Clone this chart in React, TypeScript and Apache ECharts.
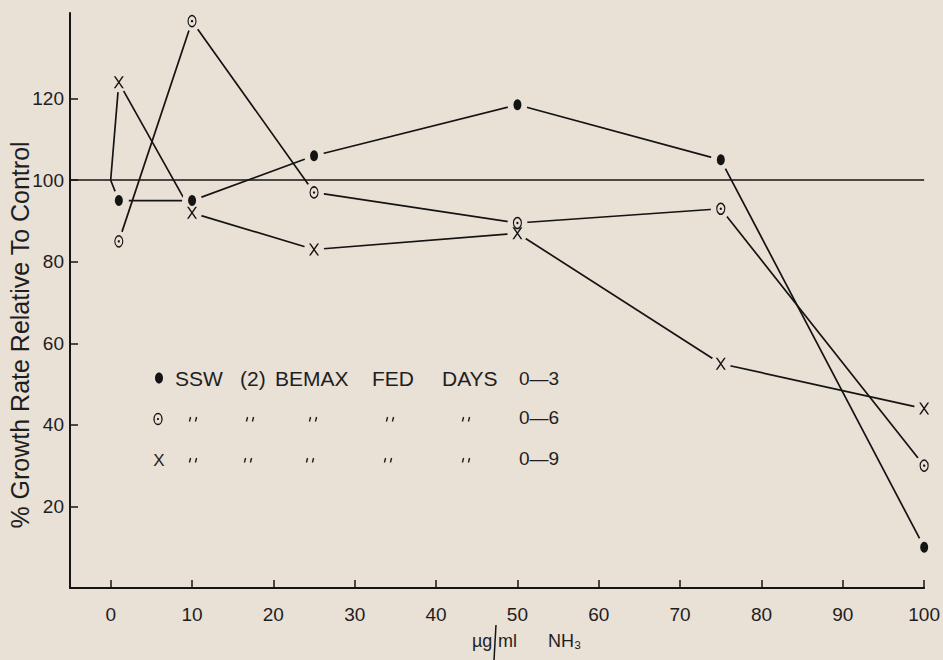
import React, { useEffect, useRef } from "react";
import * as echarts from "echarts";

// ---- data ----
const xValues = [1, 10, 25, 50, 75, 100];
const controlPoint = [0, 100];
const days03 = [95, 95, 106, 118.5, 105, 10];
const days06 = [85, 139, 97, 89.5, 93, 30];
const days09 = [124, 92, 83, 87, 55, 44];
const controlLevel = 100;
const xTicks = [0, 10, 20, 30, 40, 50, 60, 70, 80, 90, 100];
const yTicks = [20, 40, 60, 80, 100, 120];
const legendWords = ["SSW", "(2)", "BEMAX", "FED", "DAYS"];
const legendDays = ["0—3", "0—6", "0—9"];
const yTitle = "% Growth Rate Relative To Control";
const xTitleLeft = "µg";
const xTitleMid = "ml";
const xTitleRight = "NH₃";

const bg = "#e9e0d6";
const ink = "#141414";
const txt = "#1e1e1e";
const font = "'Liberation Sans', Arial, sans-serif";

const pts = (ys: number[]) => xValues.map((x, i) => [x, ys[i]]);

const crossPath =
  "path://M0,0 L1.7,0 L10,12 L8.3,12 Z M8.3,0 L10,0 L1.7,12 L0,12 Z";

export default function App() {
  const ref = useRef<HTMLDivElement>(null);
  useEffect(() => {
    if (!ref.current) return;
    const chart = echarts.init(ref.current, undefined, { renderer: "svg" });

    const lineSeries = (data: number[][], extra: any = {}) => ({
      type: "line",
      data,
      showSymbol: false,
      symbol: "none",
      silent: true,
      z: 2,
      lineStyle: { color: ink, width: 1.7 },
      ...extra,
    });

    const wordX = [175, 240, 275, 372, 442];
    const dittoX = [
      [193, 250, 313, 390, 466],
      [193, 248, 310, 388, 466],
    ];
    const rowY = [378, 419, 460];

    const graphics: any[] = [];
    // y axis title
    graphics.push({
      type: "text",
      x: 20,
      y: 335,
      rotation: Math.PI / 2,
      style: {
        text: yTitle,
        fontSize: 25,
        fontFamily: font,
        fill: txt,
        align: "center",
        verticalAlign: "middle",
      },
    });
    // x axis title
    const xt = (text: string, x: number) => ({
      type: "text",
      x,
      y: 641,
      style: {
        text,
        fontSize: 18,
        fontFamily: font,
        fill: txt,
        align: "left",
        verticalAlign: "middle",
      },
    });
    graphics.push(xt(xTitleLeft, 472));
    graphics.push(xt(xTitleMid, 498));
    graphics.push(xt(xTitleRight, 548));
    graphics.push({
      type: "line",
      shape: { x1: 496, y1: 625, x2: 494, y2: 660 },
      style: { stroke: ink, lineWidth: 1.5 },
    });
    // legend row 1
    graphics.push({
      type: "ellipse",
      shape: { cx: 159, cy: rowY[0], rx: 4, ry: 5.5 },
      style: { fill: ink },
    });
    legendWords.forEach((w, i) =>
      graphics.push({
        type: "text",
        x: wordX[i],
        y: rowY[0],
        style: {
          text: w,
          fontSize: 21,
          fontFamily: font,
          fill: txt,
          align: "left",
          verticalAlign: "middle",
        },
      })
    );
    // legend row 2 symbol
    graphics.push({
      type: "ellipse",
      shape: { cx: 158, cy: rowY[1], rx: 4, ry: 5.5 },
      style: { fill: "none", stroke: ink, lineWidth: 1.3 },
    });
    graphics.push({
      type: "circle",
      shape: { cx: 158, cy: rowY[1], r: 1.1 },
      style: { fill: ink },
    });
    // legend row 3 symbol
    graphics.push({
      type: "text",
      x: 159,
      y: rowY[2],
      style: {
        text: "X",
        fontSize: 17,
        fontFamily: font,
        fill: txt,
        align: "center",
        verticalAlign: "middle",
      },
    });
    // ditto marks
    [1, 2].forEach((r) =>
      dittoX[r - 1].forEach((x) =>
        [-3, 3].forEach((dx) =>
          graphics.push({
            type: "line",
            shape: {
              x1: x + dx + 0.6,
              y1: rowY[r] - 2,
              x2: x + dx - 0.6,
              y2: rowY[r] + 2.5,
            },
            style: { stroke: txt, lineWidth: 1.4 },
          })
        )
      )
    );
    legendDays.forEach((d, i) =>
      graphics.push({
        type: "text",
        x: 519,
        y: rowY[i] - (i === 0 ? 0 : 2),
        style: {
          text: d,
          fontSize: 19,
          fontFamily: font,
          fill: txt,
          align: "left",
          verticalAlign: "middle",
        },
      })
    );

    chart.setOption({
      animation: false,
      backgroundColor: bg,
      grid: { left: 70, right: 17, top: 13, bottom: 72 },
      xAxis: {
        type: "value",
        min: -5,
        max: 100,
        axisLine: { show: true, onZero: false, lineStyle: { color: ink, width: 2 } },
        axisTick: {
          show: true,
          inside: true,
          length: 8,
          customValues: xTicks,
          lineStyle: { color: ink, width: 1.5 },
        },
        axisLabel: {
          customValues: xTicks,
          margin: 17,
          fontSize: 19,
          fontFamily: font,
          color: txt,
        },
        splitLine: { show: false },
      },
      yAxis: {
        type: "value",
        min: 0,
        max: 141,
        axisLine: { show: true, onZero: false, lineStyle: { color: ink, width: 2 } },
        axisTick: {
          show: true,
          inside: true,
          length: 8,
          customValues: yTicks,
          lineStyle: { color: ink, width: 1.5 },
        },
        axisLabel: {
          customValues: yTicks,
          margin: 6,
          fontSize: 19,
          fontFamily: font,
          color: txt,
        },
        splitLine: { show: false },
      },
      series: [
        lineSeries([controlPoint, ...pts(days03)], {
          markLine: {
            silent: true,
            symbol: ["none", "none"],
            label: { show: false },
            lineStyle: { color: ink, width: 1.7, type: "solid" },
            data: [{ yAxis: controlLevel }],
          },
        }),
        lineSeries(pts(days06)),
        lineSeries([controlPoint, ...pts(days09)]),
        {
          type: "scatter",
          data: [...pts(days03), ...pts(days06), ...pts(days09)],
          symbol: "circle",
          symbolSize: 20,
          itemStyle: { color: bg, opacity: 1 },
          silent: true,
          z: 3,
        },
        {
          type: "scatter",
          data: pts(days03),
          symbol: "circle",
          symbolSize: [8, 11],
          itemStyle: { color: ink, opacity: 1 },
          silent: true,
          z: 4,
        },
        {
          type: "scatter",
          data: pts(days06),
          symbol: "circle",
          symbolSize: [8, 11],
          itemStyle: { color: bg, borderColor: ink, borderWidth: 1.3, opacity: 1 },
          silent: true,
          z: 4,
        },
        {
          type: "scatter",
          data: pts(days06),
          symbol: "circle",
          symbolSize: 2.4,
          itemStyle: { color: ink, opacity: 1 },
          silent: true,
          z: 5,
        },
        {
          type: "scatter",
          data: pts(days09),
          symbol: crossPath,
          symbolSize: [10, 12],
          itemStyle: { color: ink, opacity: 1 },
          silent: true,
          z: 4,
        },
      ],
      graphic: graphics,
    });
    return () => chart.dispose();
  }, []);

  return (
    <div
      ref={ref}
      style={{
        position: "fixed",
        left: 0,
        top: 0,
        width: 943,
        height: 660,
        background: bg,
      }}
    />
  );
}
